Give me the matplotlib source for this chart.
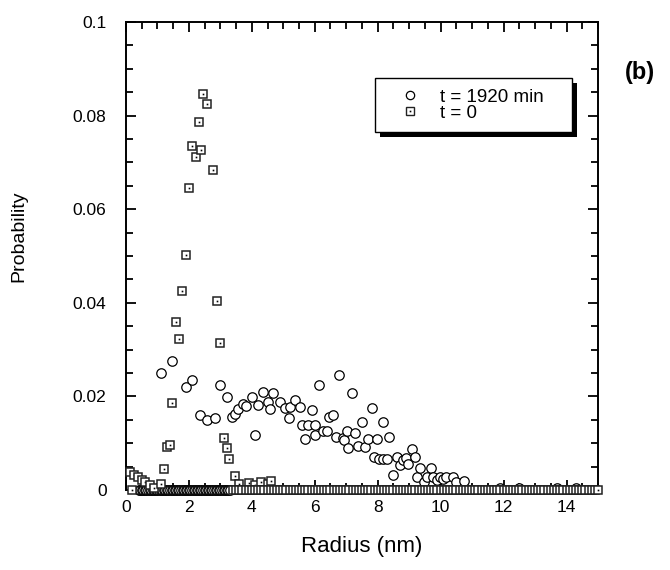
import matplotlib
matplotlib.use("Agg")
import matplotlib.pyplot as plt
from matplotlib.lines import Line2D
from matplotlib.patches import Rectangle
from matplotlib.transforms import IdentityTransform
from matplotlib.ticker import MultipleLocator

plt.rcParams['font.family'] = ['Liberation Sans', 'DejaVu Sans']

# ---- data: t = 1920 min (circles) ----
circ_x = [1.10, 1.47, 1.90, 2.11, 2.35, 2.58, 2.82, 2.99, 3.20, 3.36, 3.46, 3.57,
          3.73, 3.81, 3.99, 4.10, 4.21, 4.36, 4.52, 4.58, 4.68, 4.89, 5.05, 5.18,
          5.21, 5.37, 5.53, 5.58, 5.69, 5.79, 5.90, 6.00, 6.00, 6.14, 6.27, 6.38,
          6.46, 6.57, 6.67, 6.78, 6.89, 6.94, 7.01, 7.07, 7.17, 7.28, 7.38, 7.49,
          7.59, 7.70, 7.81, 7.88, 7.97, 8.04, 8.18, 8.18, 8.30, 8.37, 8.50, 8.60,
          8.71, 8.81, 8.90, 8.97, 9.08, 9.18, 9.26, 9.36, 9.47, 9.57, 9.69, 9.77,
          9.87, 9.97, 10.08, 10.17, 10.38, 10.50, 10.74,
          11.9, 12.5, 13.7, 14.3]
circ_y = [0.0251, 0.0276, 0.0219, 0.0234, 0.0160, 0.0150, 0.0153, 0.0224, 0.0199, 0.0157, 0.0162, 0.0172,
          0.0183, 0.0180, 0.0199, 0.0118, 0.0182, 0.0210, 0.0189, 0.0172, 0.0207, 0.0189, 0.0175, 0.0153,
          0.0178, 0.0192, 0.0178, 0.0139, 0.0108, 0.0139, 0.0171, 0.0139, 0.0118, 0.0224, 0.0127, 0.0127,
          0.0157, 0.0160, 0.0114, 0.0246, 0.0110, 0.0107, 0.0127, 0.0089, 0.0207, 0.0121, 0.0094, 0.0146,
          0.0091, 0.0108, 0.0175, 0.0070, 0.0108, 0.0066, 0.0066, 0.0146, 0.0066, 0.0114, 0.0033, 0.0071,
          0.0053, 0.0064, 0.0068, 0.0056, 0.0087, 0.0071, 0.0027, 0.0048, 0.0018, 0.0027, 0.0048, 0.0028,
          0.0021, 0.0028, 0.0024, 0.0027, 0.0028, 0.0018, 0.0020,
          0.0005, 0.0005, 0.0005, 0.0005]
# radii with zero probability at t = 1920 min
circ_zero_x = [0.40, 0.45, 0.50, 0.55, 0.60, 0.65, 0.70, 0.75, 0.80, 0.85, 0.90, 0.95,
               1.00, 1.05, 1.10, 1.15, 1.20, 1.25, 1.30, 1.35, 1.40, 1.45, 1.50, 1.55,
               1.60, 1.65, 1.70, 1.75, 1.80, 1.85, 1.90, 1.95, 2.00, 2.05, 2.10, 2.15,
               2.20, 2.25, 2.30, 2.35, 2.40, 2.45, 2.50, 2.55, 2.60, 2.65, 2.70, 2.75,
               2.80, 2.85, 2.90, 2.95, 3.00, 3.05, 3.10, 3.15, 3.20, 3.25, 3.30]

# ---- data: t = 0 (squares) ----
sq_x = [0.13, 0.25, 0.38, 0.50, 0.62, 0.75, 0.90, 1.11, 1.22, 1.32, 1.40, 1.47,
        1.58, 1.68, 1.79, 1.90, 2.00, 2.11, 2.21, 2.32, 2.37, 2.46, 2.58, 2.78,
        2.89, 3.00, 3.11, 3.22, 3.27, 3.46, 3.60, 3.90, 4.10, 4.30, 4.50, 4.60]
sq_y = [0.0039, 0.0033, 0.0028, 0.0022, 0.0018, 0.0010, 0.0005, 0.0012, 0.0044, 0.0091, 0.0096, 0.0185,
        0.0358, 0.0322, 0.0425, 0.0502, 0.0645, 0.0734, 0.0712, 0.0786, 0.0726, 0.0846, 0.0825, 0.0684,
        0.0404, 0.0313, 0.0110, 0.0089, 0.0066, 0.0030, 0.0012, 0.0015, 0.0010, 0.0018, 0.0012, 0.0020]
# radii with zero probability at t = 0
sq_zero_x = [0.18,
             3.4, 3.5, 3.6, 3.7, 3.8, 3.9, 4.0, 4.1, 4.2, 4.3, 4.4, 4.5, 4.6, 4.7, 4.8, 4.9,
             5.0, 5.1, 5.2, 5.3, 5.4, 5.5, 5.6, 5.7, 5.8, 5.9, 6.0, 6.1, 6.2, 6.3, 6.4, 6.5,
             6.6, 6.7, 6.8, 6.9, 7.0, 7.1, 7.2, 7.3, 7.4, 7.5, 7.6, 7.7, 7.8, 7.9, 8.0, 8.1,
             8.2, 8.3, 8.4, 8.5, 8.6, 8.7, 8.8, 8.9, 9.0, 9.1, 9.2, 9.3, 9.4, 9.5, 9.6, 9.7,
             9.8, 9.9, 10.0, 10.1, 10.2, 10.3, 10.4, 10.5, 10.6, 10.7, 10.8, 10.9, 11.0, 11.1,
             11.2, 11.3, 11.4, 11.5, 11.6, 11.7, 11.8, 11.9, 12.0, 12.1, 12.2, 12.3, 12.4, 12.5,
             12.6, 12.7, 12.8, 12.9, 13.0, 13.1, 13.2, 13.3, 13.4, 13.5, 13.6, 13.7, 13.8, 13.9,
             14.0, 14.1, 14.2, 14.3, 14.4, 14.5, 14.6, 14.7, 14.8, 14.9, 15.0]

labels = ["t = 1920 min", "t = 0"]
x_ticks = [0, 2, 4, 6, 8, 10, 12, 14]
y_ticks = [0, 0.02, 0.04, 0.06, 0.08, 0.1]
y_ticklabels = ["0", "0.02", "0.04", "0.06", "0.08", "0.1"]

fig = plt.figure(figsize=(6.7, 5.7), dpi=100)
ax = fig.add_axes([0.188, 0.1404, 0.7045, 0.821])

circ_style = dict(marker='o', linestyle='none', markersize=6.8, markerfacecolor='white',
                  markeredgecolor='black', markeredgewidth=0.9, clip_on=False)
sq_style = dict(marker='s', linestyle='none', markersize=6.3, markerfacecolor='white',
                markeredgecolor='#222222', markeredgewidth=1.1, clip_on=False)
dot_style = dict(marker='s', linestyle='none', markersize=1.2, color='black',
                 markeredgewidth=0, clip_on=False)

ax.plot(circ_zero_x, [0.0] * len(circ_zero_x), zorder=3, **circ_style)
ax.plot(circ_x, circ_y, zorder=3, **circ_style)

allsq_x = sq_x + sq_zero_x
allsq_y = sq_y + [0.0] * len(sq_zero_x)
last_x = max(sq_zero_x)
for xv, yv in zip(allsq_x, allsq_y):
    ax.plot([xv], [yv], zorder=4, **sq_style)
    if yv > 0 or xv == last_x or xv < 1:
        ax.plot([xv], [yv], zorder=4, **dot_style)

ax.set_xlim(0, 15)
ax.set_ylim(0, 0.1)
ax.set_xticks(x_ticks)
ax.set_yticks(y_ticks)
ax.set_yticklabels(y_ticklabels)
ax.xaxis.set_minor_locator(MultipleLocator(0.5))
ax.yaxis.set_minor_locator(MultipleLocator(0.005))
ax.tick_params(which='both', direction='in', top=True, right=True, width=1.3,
               labelsize=12.5, pad=7)
ax.tick_params(which='major', length=7)
ax.tick_params(which='minor', length=5)
ax.tick_params(axis='y', pad=14)
for s in ax.spines.values():
    s.set_linewidth(1.4)

ax.set_xlabel("Radius (nm)", fontsize=16, labelpad=15)
ax.set_ylabel("Probability", fontsize=14)
ax.yaxis.set_label_coords(-0.208, 0.543)

h1 = Line2D([], [], marker='o', linestyle='none', markersize=6, markerfacecolor='white',
            markeredgecolor='black', markeredgewidth=0.9)
h2a = Line2D([], [], marker='s', linestyle='none', markersize=6, markerfacecolor='white',
             markeredgecolor='#222222', markeredgewidth=1.0)
h2b = Line2D([], [], marker='s', linestyle='none', markersize=1.2, color='black',
             markeredgewidth=0)
leg = ax.legend([h1, (h2a, h2b)], labels, loc='upper left',
                bbox_to_anchor=(0.5275, 0.765, 0.4175, 0.115), mode='expand',
                fontsize=13.5, frameon=True, fancybox=False, framealpha=1,
                edgecolor='black', borderpad=0.55, handletextpad=0.3,
                labelspacing=-0.05, handlelength=2.6, borderaxespad=0)
leg.get_frame().set_linewidth(1.0)
leg.set_zorder(10)

fig.text(0.955, 0.873, "(b)", fontsize=17, fontweight='bold', ha='center', va='center')

fig.canvas.draw()
bb = leg.get_window_extent()
shadow = Rectangle((bb.x0 + 5, bb.y0 - 5), bb.width, bb.height, transform=IdentityTransform(),
                   facecolor='black', edgecolor='none', zorder=9.9, clip_on=False)
ax.add_artist(shadow)

fig.savefig("out.png", dpi=100)
